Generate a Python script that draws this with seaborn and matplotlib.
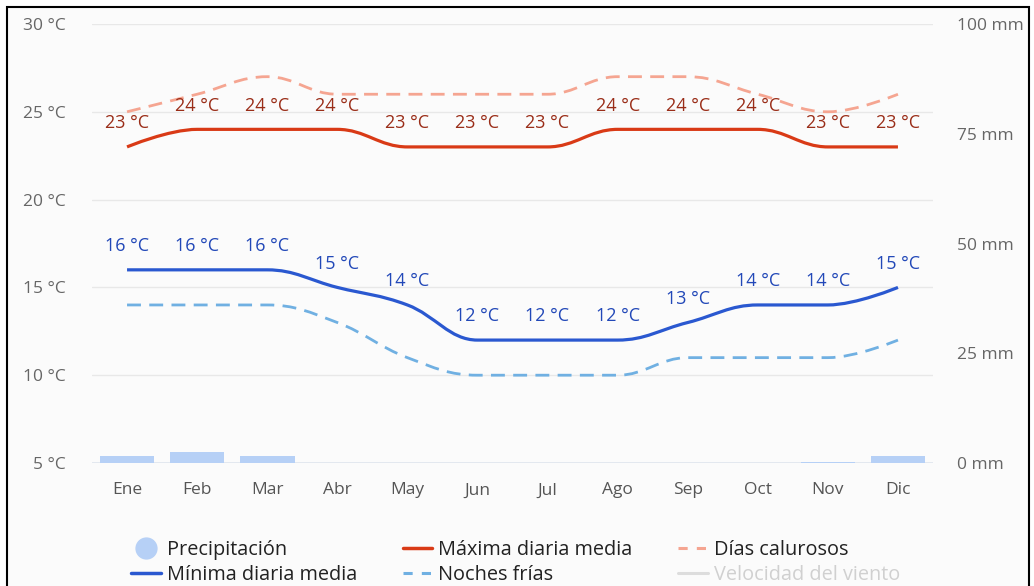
import numpy as np
import matplotlib
matplotlib.use('Agg')
import matplotlib.pyplot as plt
import seaborn as sns
from matplotlib.path import Path
from matplotlib.patches import PathPatch, Rectangle
from matplotlib.lines import Line2D

# datos mensuales
meses = ['Ene', 'Feb', 'Mar', 'Abr', 'May', 'Jun', 'Jul', 'Ago', 'Sep', 'Oct', 'Nov', 'Dic']
maxima = [23, 24, 24, 24, 23, 23, 23, 24, 24, 24, 23, 23]
minima = [16, 16, 16, 15, 14, 12, 12, 12, 13, 14, 14, 15]
calurosos = [25, 26, 27, 26, 26, 26, 26, 27, 27, 26, 25, 26]
frias = [14, 14, 14, 13, 11, 10, 10, 10, 11, 11, 11, 12]
precip = [1.6, 2.4, 1.5, 0, 0, 0, 0, 0, 0, 0, 0.3, 1.6]

c_max, c_min = '#d93a16', '#2a58d0'
c_hot, c_cold = '#f5a591', '#70b0e2'
c_prec = '#b6d0f6'

sns.set_theme(style='white')
plt.rcParams['font.family'] = ['Open Sans', 'DejaVu Sans']


def spline_path(ys, smoothing=1.5):
    # curva tipo "spline" (bezier) entre los puntos reales
    xs = list(range(len(ys)))
    n = len(ys)
    lc = [(xs[i], ys[i]) for i in range(n)]
    rc = [(xs[i], ys[i]) for i in range(n)]
    d = smoothing + 1
    for i in range(1, n - 1):
        px, py = xs[i], ys[i]
        lx, ly = xs[i - 1], ys[i - 1]
        nx, ny = xs[i + 1], ys[i + 1]
        lcx = (smoothing * px + lx) / d
        lcy = (smoothing * py + ly) / d
        rcx = (smoothing * px + nx) / d
        rcy = (smoothing * py + ny) / d
        corr = (rcy - lcy) * (rcx - px) / (rcx - lcx) + py - rcy
        lcy += corr
        rcy += corr
        if lcy > ly and lcy > py:
            lcy = max(ly, py); rcy = 2 * py - lcy
        elif lcy < ly and lcy < py:
            lcy = min(ly, py); rcy = 2 * py - lcy
        if rcy > ny and rcy > py:
            rcy = max(ny, py); lcy = 2 * py - rcy
        elif rcy < ny and rcy < py:
            rcy = min(ny, py); lcy = 2 * py - rcy
        lc[i] = (lcx, lcy)
        rc[i] = (rcx, rcy)
    verts = [(xs[0], ys[0])]
    codes = [Path.MOVETO]
    for i in range(1, n):
        verts += [rc[i - 1], lc[i], (xs[i], ys[i])]
        codes += [Path.CURVE4] * 3
    return Path(verts, codes)


fig = plt.figure(figsize=(10.34, 5.86), dpi=100)
fig.patch.set_facecolor('white')
fig.patches.append(Rectangle((7 / 1034, -0.05), 1022 / 1034, 1.05 - 7 / 586,
                             transform=fig.transFigure, facecolor='#fbfbfb',
                             edgecolor='black', lw=1.5, zorder=-10))

ax = fig.add_axes([92 / 1034, 123 / 586, 841 / 1034, 439 / 586])
ax.set_facecolor('none')
ax2 = ax.twinx()

# precipitación en el eje derecho
sns.barplot(x=meses, y=precip, ax=ax2, color=c_prec, width=0.78, saturation=1,
            linewidth=0, zorder=1)
ax2.set_ylim(0, 100)
ax2.set_yticks([0, 25, 50, 75, 100])
ax2.set_yticklabels([f'{v} mm' for v in [0, 25, 50, 75, 100]])

for serie, col, lw, ls in [(calurosos, c_hot, 2.0, (0, (5, 3))),
                           (frias, c_cold, 2.0, (0, (5, 3))),
                           (maxima, c_max, 2.3, '-'),
                           (minima, c_min, 2.3, '-')]:
    ax.add_patch(PathPatch(spline_path(serie), facecolor='none', edgecolor=col,
                           lw=lw, linestyle=ls, capstyle='butt', zorder=3))

for i, m in enumerate(meses):
    ax.annotate(f'{maxima[i]} °C', (i, maxima[i]), xytext=(0, 17), textcoords='offset points',
                ha='center', va='center', fontsize=13, color='#9a2d18', zorder=5)
    ax.annotate(f'{minima[i]} °C', (i, minima[i]), xytext=(0, 17), textcoords='offset points',
                ha='center', va='center', fontsize=13, color='#2248b8', zorder=5)

ax.set_xlim(-0.5, 11.5)
ax2.set_xlim(-0.5, 11.5)
ax.set_ylim(5, 30)
ax.set_yticks([5, 10, 15, 20, 25, 30])
ax.set_yticklabels([f'{v} °C' for v in [5, 10, 15, 20, 25, 30]])
ax.grid(axis='y', color='#e8e8e8', lw=1)
ax.set_axisbelow(True)

for a in (ax, ax2):
    for s in a.spines.values():
        s.set_visible(False)
    a.set_xlabel('')
    a.set_ylabel('')
ax.axhline(5, color='#dfe6f0', lw=1.2, zorder=0)

ax.tick_params(axis='y', length=0, pad=19, labelsize=12.5, labelcolor='#666666')
ax2.tick_params(axis='y', length=0, pad=17, labelsize=12.5, labelcolor='#666666')
ax2.tick_params(axis='x', length=0, pad=14, labelsize=12.5, labelcolor='#555555')
ax.tick_params(axis='x', length=0, pad=14, labelsize=12.5, labelcolor='#555555')

handles = [
    Line2D([], [], marker='o', ls='none', markersize=15, color=c_prec),
    Line2D([], [], color=c_min, lw=2.5),
    Line2D([], [], color=c_max, lw=2.5),
    Line2D([], [], color=c_cold, lw=2.2, ls=(0, (3, 3))),
    Line2D([], [], color=c_hot, lw=2.2, ls=(0, (3, 3))),
    Line2D([], [], color='#dddddd', lw=2.2),
]
labels = ['Precipitación', 'Mínima diaria media', 'Máxima diaria media',
          'Noches frías', 'Días calurosos', 'Velocidad del viento']
leg = fig.legend(handles, labels, ncol=3, loc='upper left',
                 bbox_to_anchor=(121 / 1034, 1 - 530 / 586), frameon=False,
                 fontsize=14.3, handlelength=1.5, handletextpad=0.3,
                 columnspacing=2.3, labelspacing=0.25, borderpad=0)
for t in leg.get_texts():
    t.set_color('#222222')
leg.get_texts()[-1].set_color('#d0d0d0')

fig.savefig('out.png', dpi=100)
